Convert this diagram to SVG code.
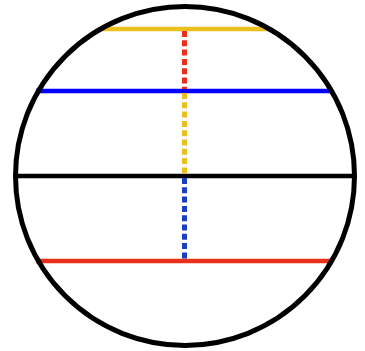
<svg xmlns="http://www.w3.org/2000/svg" width="365" height="351" viewBox="0 0 365 351">
<style>
.h{stroke-width:4.5;fill:none}
.d{stroke-width:5;stroke-dasharray:6 3.3;fill:none}
</style>
<rect width="365" height="351" fill="#fff"/>
<g id="connectors">
<line class="h" x1="100" y1="29" x2="268" y2="29" stroke="#EBBF1E"/>
<line class="h" x1="36" y1="91" x2="332" y2="91" stroke="#0000FF"/>
<line class="h" x1="14" y1="176" x2="356" y2="176" stroke="#000"/>
<line class="h" x1="36" y1="261" x2="332" y2="261" stroke="#E8301A"/>
<line class="d" x1="184.5" y1="31" x2="184.5" y2="89" stroke="#E8301A"/>
<line class="d" x1="184.5" y1="93" x2="184.5" y2="174" stroke="#EBBF1E"/>
<line class="d" x1="184.5" y1="178" x2="184.5" y2="259" stroke="#1A3FC0"/>
</g>
<g id="circle">
<circle cx="185" cy="176" r="169.5" fill="none" stroke="#000" stroke-width="5"/>
</g>
</svg>
